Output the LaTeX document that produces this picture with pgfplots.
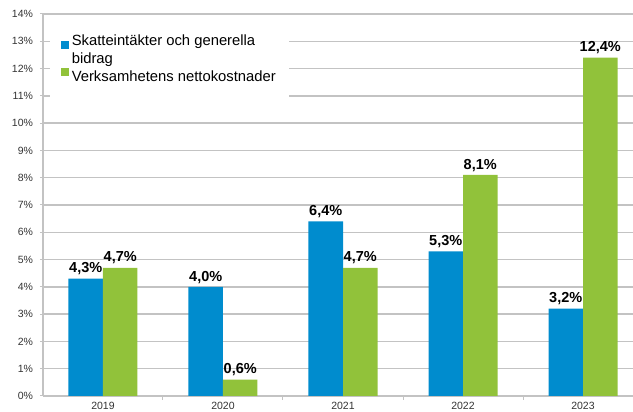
\documentclass[border=0pt]{standalone}
\usepackage{pgfplots}
\pgfplotsset{compat=1.18}
\usepackage{fontspec}
\setmainfont{Liberation Sans}
\definecolor{cblue}{RGB}{0,140,206}
\definecolor{cgreen}{RGB}{145,194,58}
\definecolor{gridc}{RGB}{195,195,195}
\begin{document}
\begin{tikzpicture}
\begin{axis}[
  name=ax,
  scale only axis, width=590pt, height=382pt,
  xmin=-0.5, xmax=4.4167, ymin=0, ymax=14,
  ybar=0pt, bar width=34.5pt,
  axis x line*=bottom, axis y line*=left,
  axis line style={gridc, line width=1.2pt, -},
  xtick={0,1,2,3,4}, xticklabels={2019,2020,2021,2022,2023},
  major x tick style={draw=none},
  minor xtick={0.5,1.5,2.5,3.5},
  minor x tick style={gridc, line width=1pt},
  minor tick length=4pt,
  ytick={0,...,14}, yticklabel={\pgfmathprintnumber{\tick}\%},
  major y tick style={gridc, line width=1pt},
  major tick length=3pt, tick align=outside,
  ymajorgrids, grid style={gridc, line width=1.3pt},
  /pgf/number format/assume math mode=true,
  tick label style={font=\fontsize{10.5}{12}\selectfont, text=black!80},
  yticklabel style={xshift=-3.5pt},
  xticklabel style={yshift=0.5pt},
  nodes near coords={\pgfmathprintnumber[fixed,fixed zerofill,precision=1,use comma]{\pgfplotspointmeta}\%},
  every node near coord/.append style={font=\bfseries\fontsize{14.5}{16}\selectfont, text=black},
  legend style={at={(0.012,0.99)}, anchor=north west, draw=none, fill=white,
    font=\fontsize{14.8}{18}\selectfont, inner xsep=11pt, inner ysep=15pt,
    row sep=2pt, nodes={inner xsep=2.5pt, inner ysep=1.5pt, align=left}},
  legend cell align=left,
  mylegend/.style={legend image code/.code={\fill[##1,draw=none] (0pt,1pt) rectangle (8pt,9pt);}},
]
\addplot[fill=cblue, draw=none, mylegend] coordinates {(0,4.3) (1,4.0) (2,6.4) (3,5.3) (4,3.2)};
\addlegendentry{Skatteintäkter och generella\\bidrag}
\addplot[fill=cgreen, draw=none, mylegend] coordinates {(0,4.7) (1,0.6) (2,4.7) (3,8.1) (4,12.4)};
\addlegendentry{Verksamhetens nettokostnader}
\end{axis}
\pgfresetboundingbox
\useasboundingbox ([xshift=-43pt,yshift=-16pt]ax.south west) rectangle ([yshift=14pt]ax.north east);
\end{tikzpicture}
\end{document}
